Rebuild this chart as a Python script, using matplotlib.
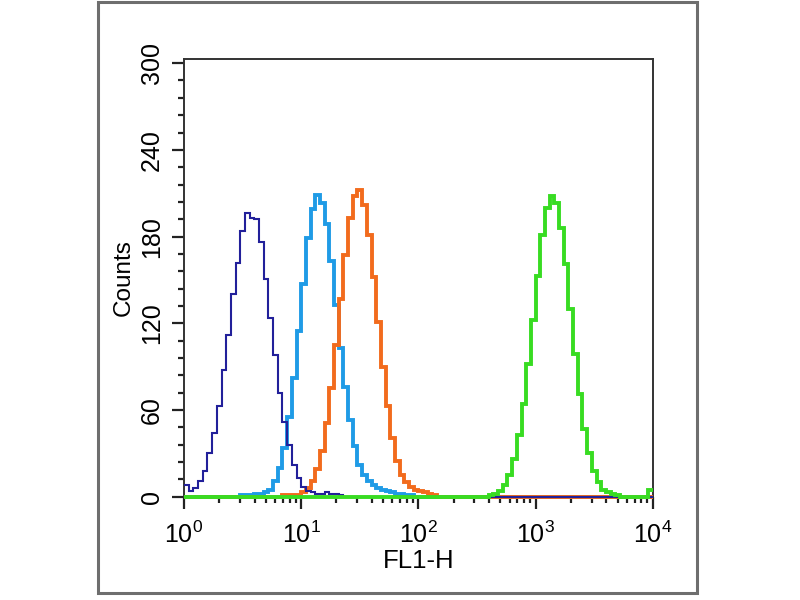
import numpy as np
import matplotlib
matplotlib.use("Agg")
import matplotlib.pyplot as plt
from matplotlib.patches import Rectangle
from matplotlib.ticker import MultipleLocator, LogLocator, NullFormatter

plt.rcParams['font.family'] = ['Liberation Sans', 'DejaVu Sans']

# histogram channels: 0.04 decade wide, 10^0 .. 10^4
bin_width = 0.04
n_bins = 100

# counts, first bin given as log10 position
navy_start = 0.00
navy_counts = [8, 4, 6, 11, 18, 30, 44, 63, 88, 112, 140, 162, 184, 196, 193, 192,
               176, 151, 124, 98, 72, 52, 36, 22, 13, 7, 4, 3, 2, 2, 3, 2, 2, 1]

blue_start = 0.48
blue_counts = [1, 1, 1, 2, 2, 3, 5, 11, 20, 34, 55, 82, 115, 147, 179, 199, 209,
               203, 189, 163, 133, 103, 76, 53, 35, 22, 15, 11, 8, 6, 5, 4, 3, 2, 2, 1, 1]

orange_start = 0.84
orange_counts = [1, 1, 1, 1, 3, 6, 11, 19, 32, 51, 75, 105, 137, 167, 193, 208, 212,
                 202, 181, 152, 121, 90, 63, 41, 25, 15, 10, 7, 5, 4, 3, 2, 1]

green_start = 2.60
green_counts = [1, 2, 4, 8, 15, 26, 43, 64, 92, 122, 153, 181, 200, 208, 203, 186,
                161, 130, 99, 71, 47, 30, 18, 10, 5, 3, 2, 1]
green_edge_start = 3.96
green_edge_counts = [5]

y_ticks = [0, 60, 120, 180, 240, 300]


def full_hist(start, counts):
    h = np.zeros(n_bins)
    i = int(round(start / bin_width))
    h[i:i + len(counts)] = counts
    return h


edges = 10 ** (np.arange(n_bins + 1) * bin_width)

navy = full_hist(navy_start, navy_counts)
blue = full_hist(blue_start, blue_counts)
orange = full_hist(orange_start, orange_counts)
green = full_hist(green_start, green_counts) + full_hist(green_edge_start, green_edge_counts)

fig = plt.figure(figsize=(8, 6), dpi=100)
fig.patches.append(Rectangle((0.1225, 0.012), 0.749, 0.984, transform=fig.transFigure,
                             fill=False, edgecolor='#6e6e6e', linewidth=2.2))

ax = fig.add_axes([0.23, 0.172, 0.586, 0.73])

ax.stairs(blue, edges, baseline=None, color='#1f9be6', linewidth=2.8, zorder=2, clip_on=False)
ax.stairs(orange, edges, baseline=None, color='#f26b1d', linewidth=2.8, zorder=3, clip_on=False)
ax.stairs(navy, edges, baseline=None, color='#22209a', linewidth=1.5, zorder=4, clip_on=False)
ax.stairs(green, edges, baseline=None, color='#38dc22', linewidth=2.8, zorder=5, clip_on=False)

ax.set_xscale('log')
ax.set_xlim(1, 1e4)
ax.set_ylim(0, 303)

ax.set_yticks(y_ticks)
ax.yaxis.set_minor_locator(MultipleLocator(12))
ax.xaxis.set_major_locator(LogLocator(base=10, numticks=10))
ax.xaxis.set_minor_locator(LogLocator(base=10, subs=np.arange(2, 10), numticks=20))
ax.xaxis.set_minor_formatter(NullFormatter())

ax.tick_params(which='major', direction='out', length=8.5, width=1.6, color='#222',
               labelsize=18, pad=9)
ax.tick_params(which='minor', direction='out', length=4.5, width=1.6, color='#222')
ax.tick_params(axis='y', which='major', labelrotation=90, pad=6)
for lab in ax.get_yticklabels():
    lab.set_va('center')

for s in ax.spines.values():
    s.set_color('#333')
    s.set_linewidth(1.4)

ax.set_ylabel('Counts', fontsize=17.5, labelpad=4)
ax.set_xlabel('FL1-H', fontsize=18.5, labelpad=1)

fig.savefig('out.png', dpi=100)
